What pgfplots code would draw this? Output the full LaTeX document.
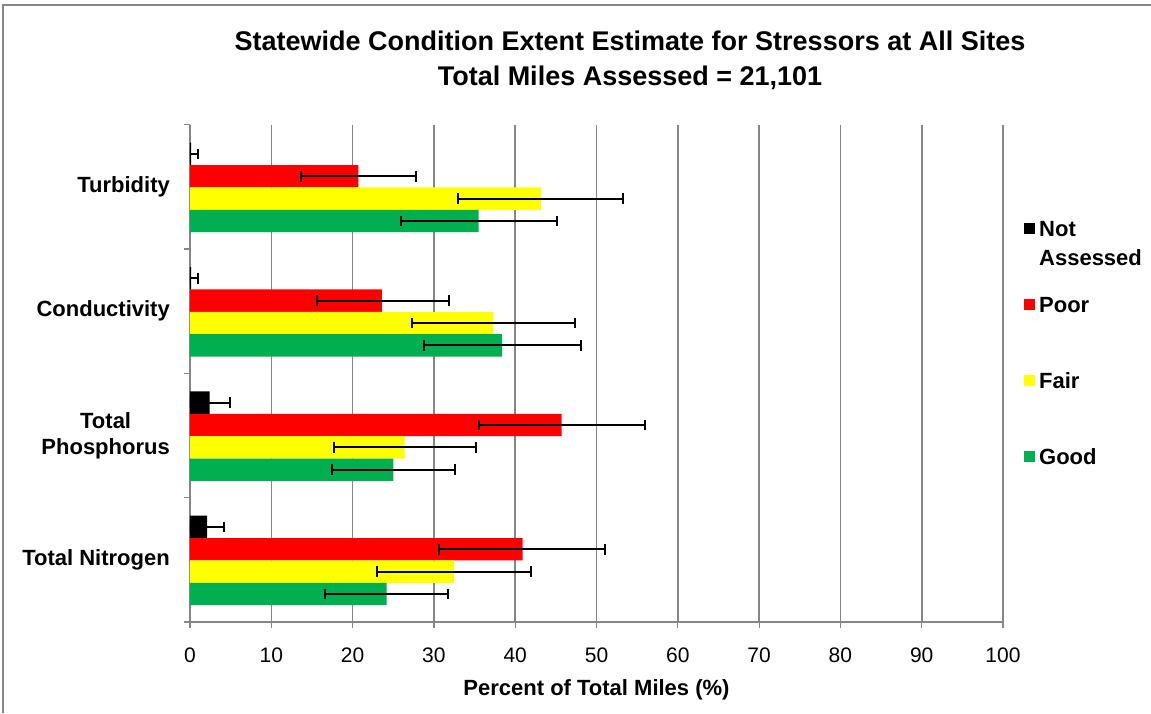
\documentclass[border=0pt]{standalone}
\usepackage{fontspec}
\setmainfont{Liberation Sans}
\usepackage{pgfplots}
\pgfplotsset{compat=1.18}
\usepackage{pgfplotstable}
\definecolor{cPoor}{RGB}{255,0,0}
\definecolor{cFair}{RGB}{255,255,0}
\definecolor{cGood}{RGB}{0,176,80}
\definecolor{gridgray}{RGB}{134,134,134}

% y: 0 Total Nitrogen, 1 Total Phosphorus, 2 Conductivity, 3 Turbidity
\pgfplotstableread{
y  v     ep    em
0  2.1   2.1   2.1
1  2.4   2.5   2.4
2  0.15  0.85  0.15
3  0.15  0.85  0.15
}\dataNA
\pgfplotstableread{
y  v     ep    em
0  40.9  10.2  10.3
1  45.7  10.3  10.1
2  23.6  8.2   8.0
3  20.7  7.1   7.1
}\dataPoor
\pgfplotstableread{
y  v     ep    em
0  32.5  9.4   9.5
1  26.4  8.8   8.7
2  37.3  10.1  10.0
3  43.2  10.0  10.2
}\dataFair
\pgfplotstableread{
y  v     ep    em
0  24.2  7.5   7.6
1  25.0  7.6   7.5
2  38.4  9.7   9.6
3  35.5  9.7   9.6
}\dataGood

\pgfplotsset{
  myerr/.style={
    line width=2pt,
    error bars/.cd, x dir=both, x explicit,
    error mark=|,
    error bar style={draw=black, line width=2pt},
    error mark options={draw=black, line width=2pt, mark size=5.3pt},
  },
}

\begin{document}
\begin{tikzpicture}[x=1pt,y=1pt]
\useasboundingbox (0,0) rectangle (1151,713);
\draw[gridgray, line width=2pt] (2.5,0) -- (2.5,708) -- (1151,708);
\begin{axis}[
  at={(190pt,91pt)}, anchor=south west,
  width=813pt, height=497.3pt, scale only axis,
  xbar, bar width=0.18,
  xmin=0, xmax=100, ymin=-0.5, ymax=3.5,
  xtick={0,10,...,100},
  ytick={-0.5,0.5,1.5,2.5,3.5},
  yticklabels={},
  extra y ticks={0,1,2,3},
  extra y tick labels={Total Nitrogen,{Total\\Phosphorus},Conductivity,Turbidity},
  extra y tick style={tick style={draw=none}, grid=none,
     yticklabel style={align=center, font=\bfseries\fontsize{22}{26}\selectfont, inner sep=0pt, xshift=-14pt}},
  tick align=outside,
  major tick length=6pt,
  tick style={gridgray, line width=1.2pt},
  axis x line*=bottom, axis y line*=left,
  axis line style={gridgray, line width=1.8pt},
  xmajorgrids,
  grid style={gridgray, line width=1.6pt},
  /pgf/number format/assume math mode=true,
  xticklabel style={font=\fontsize{21}{21}\selectfont, inner sep=0pt, yshift=-20pt},
  xlabel={Percent of Total Miles (\%)},
  x label style={at={(axis description cs:0.5,-0.137)}, anchor=center, font=\bfseries\fontsize{22}{26}\selectfont},
  legend style={at={(axis description cs:1.0258,0.808)}, anchor=north west, draw=none, fill=none,
     inner sep=0pt, row sep=60pt, font=\bfseries\fontsize{22}{26}\selectfont,
     nodes={inner sep=0pt, text height=16pt, text depth=0pt}},
  legend cell align=left,
  legend image code/.code={\fill[#1] (0pt,-6pt) rectangle (11pt,5pt); \path (15pt,0pt);},
]
\addplot[fill=black, draw=none, bar shift=0.265, myerr]
  table[x=v, y=y, x error plus=ep, x error minus=em] {\dataNA};
\addplot[fill=cPoor, draw=none, bar shift=0.085, myerr]
  table[x=v, y=y, x error plus=ep, x error minus=em] {\dataPoor};
\addplot[fill=cFair, draw=none, bar shift=-0.095, myerr]
  table[x=v, y=y, x error plus=ep, x error minus=em] {\dataFair};
\addplot[fill=cGood, draw=none, bar shift=-0.275, myerr]
  table[x=v, y=y, x error plus=ep, x error minus=em] {\dataGood};
\legend{{\begin{tabular}[t]{@{}l@{}}Not\\[3pt]Assessed\end{tabular}},Poor,Fair,Good}
\end{axis}
\node[align=center, font=\bfseries\fontsize{27}{35}\selectfont] at (630,653)
  {Statewide Condition Extent Estimate for Stressors at All Sites\\Total Miles Assessed = 21,101};
\end{tikzpicture}
\end{document}
